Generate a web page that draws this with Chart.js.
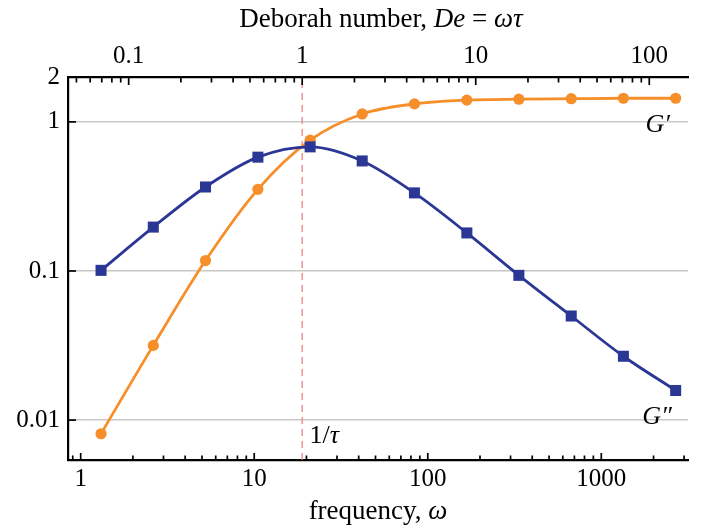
<!DOCTYPE html>
<html>
<head>
<meta charset="utf-8">
<script src="https://cdn.jsdelivr.net/npm/chart.js@4"></script>
<style>
  body { margin: 0; background: #fff; }
  canvas { display: block; }
</style>
</head>
<body>
<canvas id="myChart" width="707" height="532"></canvas>
<script>
// data
const omega = [1.31, 2.62, 5.24, 10.5, 21.0, 41.9, 83.8, 168, 335, 671, 1341, 2683];
const gPrime = [0.0081, 0.0317, 0.1175, 0.353, 0.754, 1.13, 1.32, 1.40, 1.42, 1.43, 1.44, 1.44];
const gDouble = [0.101, 0.197, 0.366, 0.580, 0.680, 0.547, 0.334, 0.180, 0.0935, 0.0499, 0.0268, 0.0158];

const bottomTicks = [1, 10, 100, 1000];
const topTicks = [0.1, 1, 10, 100];
const leftTicks = [0.01, 0.1, 1, 2];

const tau = 1 / 18.9;
const xMin = 0.845, xMax = 3160;
const yMin = 0.0054, yMax = 2;

const serif = "'Liberation Serif', 'Times New Roman', serif";
const orange = '#f68e2a';
const blue = '#2b3795';

function points(xs, ys) {
  return xs.map((x, i) => ({ x: x, y: ys[i] }));
}

function setTicks(values) {
  return function (scale) {
    scale.ticks = values.map(v => ({ value: v }));
  };
}

// draws a line of text made of upright and italic parts, centred on cx
function richText(ctx, parts, cx, y, size) {
  let total = 0;
  parts.forEach(p => {
    ctx.font = (p[1] ? 'italic ' : '') + size + 'px ' + serif;
    total += ctx.measureText(p[0]).width;
  });
  let x = cx - total / 2;
  parts.forEach(p => {
    ctx.font = (p[1] ? 'italic ' : '') + size + 'px ' + serif;
    ctx.fillText(p[0], x, y);
    x += ctx.measureText(p[0]).width;
  });
}

function logSteps(min, max) {
  let out = [];
  for (let e = Math.floor(Math.log10(min)); e <= Math.ceil(Math.log10(max)); e++) {
    for (let m = 1; m <= 9; m++) {
      let v = m * Math.pow(10, e);
      if (v >= min && v <= max) out.push({ v: v, major: m === 1 });
    }
  }
  return out;
}

const decorations = {
  id: 'decorations',
  afterDraw(chart) {
    const { ctx, chartArea: a, scales } = chart;
    ctx.save();
    ctx.strokeStyle = '#000';
    ctx.lineWidth = 1.7;

    logSteps(xMin, xMax).forEach(t => {
      let x = scales.x.getPixelForValue(t.v);
      ctx.beginPath();
      ctx.moveTo(x, a.bottom);
      ctx.lineTo(x, a.bottom - (t.major ? 7 : 4.5));
      ctx.stroke();
    });
    logSteps(xMin * tau, xMax * tau).forEach(t => {
      let x = scales.x2.getPixelForValue(t.v);
      ctx.beginPath();
      ctx.moveTo(x, a.top);
      ctx.lineTo(x, a.top + (t.major ? 8 : 5.5));
      ctx.stroke();
    });
    [0.01, 0.1, 1].forEach(v => {
      let y = scales.y.getPixelForValue(v);
      ctx.beginPath();
      ctx.moveTo(a.left, y);
      ctx.lineTo(a.left + 8, y);
      ctx.stroke();
    });

    ctx.fillStyle = '#000';
    ctx.textBaseline = 'alphabetic';
    let cx = (a.left + a.right) / 2;
    richText(ctx, [['Deborah number, ', false], ['De', true], [' = ', false], ['ωτ', true]], cx + 3, a.top - 50, 27);
    richText(ctx, [['frequency, ', false], ['ω', true]], cx, a.bottom + 59, 27);

    ctx.textAlign = 'left';
    ctx.font = 'italic 26px ' + serif;
    ctx.fillText('G′', scales.x.getPixelForValue(1800), scales.y.getPixelForValue(0.853));
    ctx.fillText('G″', scales.x.getPixelForValue(1720), scales.y.getPixelForValue(0.00935));
    let lx = scales.x.getPixelForValue(20.8), ly = scales.y.getPixelForValue(0.00698);
    ctx.font = '26px ' + serif;
    ctx.fillText('1/', lx, ly);
    let w = ctx.measureText('1/').width;
    ctx.font = 'italic 26px ' + serif;
    ctx.fillText('τ', lx + w, ly);
    ctx.restore();
  }
};

const ctx = document.getElementById('myChart');

let myChart = new Chart(ctx, {
  type: 'line',
  data: {
    datasets: [{
      label: "G''",
      data: points(omega, gDouble),
      borderColor: blue,
      backgroundColor: blue,
      borderWidth: 2.8,
      pointStyle: 'rect',
      pointRadius: 7.8,
      pointBorderWidth: 0,
      cubicInterpolationMode: 'monotone'
    }, {
      label: "G'",
      data: points(omega, gPrime),
      borderColor: orange,
      backgroundColor: orange,
      borderWidth: 2.8,
      pointRadius: 5.6,
      pointBorderWidth: 0,
      cubicInterpolationMode: 'monotone'
    }, {
      label: '1/tau',
      data: [{ x: 1 / tau, y: yMin }, { x: 1 / tau, y: yMax }],
      borderColor: 'rgba(236, 120, 120, 0.75)',
      borderWidth: 1.6,
      borderDash: [7, 5],
      pointRadius: 0
    }]
  },
  options: {
    responsive: false,
    animation: false,
    layout: { padding: { left: 0, right: 19, top: 0, bottom: 0 } },
    plugins: {
      legend: { display: false },
      tooltip: { enabled: false }
    },
    scales: {
      x: {
        type: 'logarithmic',
        position: 'bottom',
        min: xMin,
        max: xMax,
        bounds: 'data',
        afterBuildTicks: setTicks(bottomTicks),
        afterFit: s => { s.height = 72; },
        grid: { display: false, drawTicks: false },
        border: { display: true, color: '#000', width: 2.2 },
        ticks: {
          autoSkip: false,
          maxRotation: 0,
          padding: 4,
          color: '#000',
          font: { family: serif, size: 25 },
          callback: v => String(v)
        }
      },
      x2: {
        type: 'logarithmic',
        position: 'top',
        min: xMin * tau,
        max: xMax * tau,
        bounds: 'data',
        afterBuildTicks: setTicks(topTicks),
        afterFit: s => { s.height = 77; },
        grid: { display: false, drawTicks: false },
        border: { display: true, color: '#000', width: 2.2 },
        ticks: {
          autoSkip: false,
          maxRotation: 0,
          padding: 6,
          color: '#000',
          font: { family: serif, size: 25 },
          callback: v => String(v)
        }
      },
      y: {
        type: 'logarithmic',
        min: yMin,
        max: yMax,
        bounds: 'data',
        afterBuildTicks: setTicks(leftTicks),
        afterFit: s => { s.height = s.height; s.width = 68; },
        grid: {
          drawTicks: false,
          color: c => (c.tick && c.tick.value === 2) ? 'rgba(0,0,0,0)' : '#c8c8c8',
          lineWidth: 1.5
        },
        border: { display: true, color: '#000', width: 2.2 },
        ticks: {
          autoSkip: false,
          padding: 8,
          color: '#000',
          font: { family: serif, size: 25 },
          callback: v => String(v)
        }
      }
    }
  },
  plugins: [decorations]
});
</script>
</body>
</html>
